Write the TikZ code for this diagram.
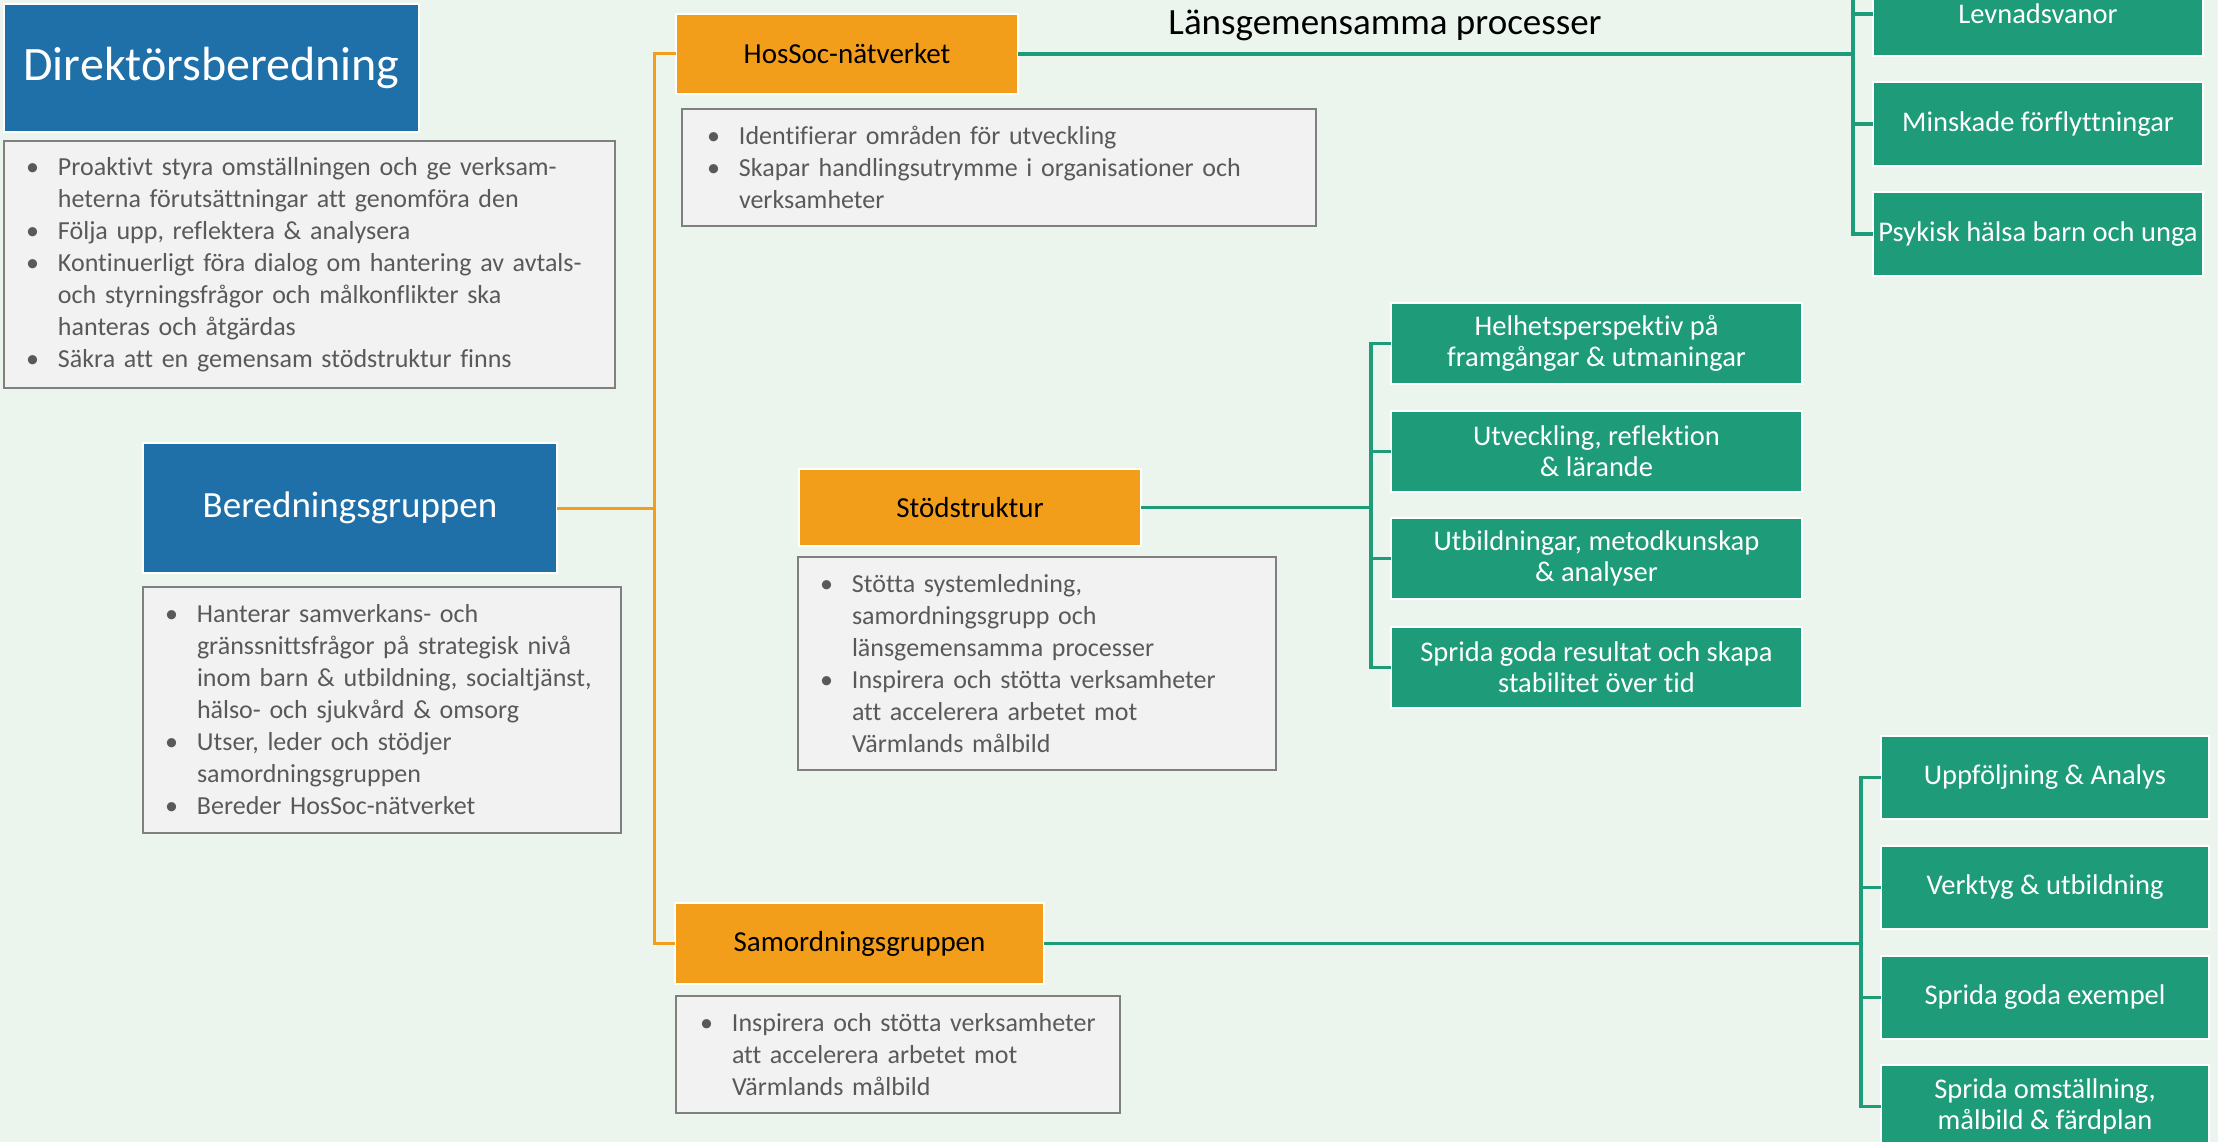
\documentclass[tikz,border=0pt]{standalone}
\usepackage{fontspec}
\setmainfont{Carlito}[Ligatures={NoCommon,NoRequired,NoContextual}]
\definecolor{bg}{RGB}{235,245,238}
\definecolor{blueb}{RGB}{31,111,168}
\definecolor{orangeb}{RGB}{242,158,27}
\definecolor{tealb}{RGB}{30,155,120}
\definecolor{grayfill}{RGB}{242,242,242}
\definecolor{grayline}{RGB}{128,128,128}
\definecolor{graytext}{RGB}{89,89,89}
\newcommand{\li}[1]{\mbox{\makebox[32pt][l]{•}#1}}
\newcommand{\lc}[1]{\mbox{\hspace*{32pt}#1}}
\tikzset{
  box/.style={rectangle, anchor=north west, inner sep=0pt, outer sep=0pt, draw=white, line width=2.5pt, align=center},
  bluebox/.style={box, fill=blueb, text=white},
  orangebox/.style={box, fill=orangeb, text=black, font=\fontsize{29}{34}\selectfont},
  tealbox/.style={box, fill=tealb, text=white, font=\fontsize{28.5}{31}\selectfont},
  infobox/.style={rectangle, anchor=north west, fill=grayfill, draw=grayline, line width=2pt,
    inner xsep=22pt, inner ysep=0pt, outer sep=0pt, align=left, text=graytext, font=\fontsize{26}{32}\selectfont},
  oline/.style={draw=orangeb, line width=3pt},
  tline/.style={draw=tealb, line width=3.5pt},
}
\begin{document}
\begin{tikzpicture}[x=1pt,y=-1pt]
\useasboundingbox (0,0) rectangle (2218,1142);
\fill[bg] (0,0) rectangle (2218,1142);
\clip (0,0) rectangle (2218,1142);

% left column
\node[bluebox, minimum width=415pt, minimum height=128pt, font=\fontsize{48}{54}\selectfont] (dir) at (4,4) {Direktörsberedning};
\node[infobox, text width=567pt, minimum height=247pt] (dirinfo) at (4,141) {%
\li{Proaktivt styra omställningen och ge verksam-}\\
\lc{heterna förutsättningar att genomföra den}\\
\li{Följa upp, reflektera \& analysera}\\
\li{Kontinuerligt föra dialog om hantering av avtals-}\\
\lc{och styrningsfrågor och målkonflikter ska}\\
\lc{hanteras och åtgärdas}\\
\li{Säkra att en gemensam stödstruktur finns}};

\node[bluebox, minimum width=414pt, minimum height=130pt, font=\fontsize{37}{42}\selectfont] (ber) at (143,443) {Beredningsgruppen};
\node[infobox, text width=434pt, minimum height=246pt] (berinfo) at (143,587) {%
\li{Hanterar samverkans- och}\\
\lc{gränssnittsfrågor på strategisk nivå}\\
\lc{inom barn \& utbildning, socialtjänst,}\\
\lc{hälso- och sjukvård \& omsorg}\\
\li{Utser, leder och stödjer}\\
\lc{samordningsgruppen}\\
\li{Bereder HosSoc-nätverket}};

% middle column
\node[orangebox, minimum width=342pt, minimum height=80pt] (hos) at (676,14) {HosSoc-nätverket};
\node[infobox, inner xsep=25pt, text width=584pt, minimum height=117pt] (hosinfo) at (682,109) {%
\li{Identifierar områden för utveckling}\\
\li{Skapar handlingsutrymme i organisationer och}\\
\lc{verksamheter}};

\node[orangebox, minimum width=342pt, minimum height=77pt] (stod) at (799,469) {Stödstruktur};
\node[infobox, text width=434pt, minimum height=213pt] (stodinfo) at (798,557) {%
\li{Stötta systemledning,}\\
\lc{samordningsgrupp och}\\
\lc{länsgemensamma processer}\\
\li{Inspirera och stötta verksamheter}\\
\lc{att accelerera arbetet mot}\\
\lc{Värmlands målbild}};

\node[orangebox, minimum width=369pt, minimum height=81pt] (sam) at (675,903) {Samordningsgruppen};
\node[infobox, inner xsep=24pt, text width=396pt, minimum height=117pt] (saminfo) at (676,996) {%
\li{Inspirera och stötta verksamheter}\\
\lc{att accelerera arbetet mot}\\
\lc{Värmlands målbild}};

\node[anchor=base, font=\fontsize{37}{42}\selectfont] (lans) at (1385,35) {Länsgemensamma processer};

% right boxes group A
\node[tealbox, minimum width=330pt, minimum height=84pt] (lev) at (1873,-28) {Levnadsvanor};
\node[tealbox, minimum width=330pt, minimum height=84pt] (min) at (1873,82) {Minskade förflyttningar};
\node[tealbox, minimum width=330pt, minimum height=84pt] (psy) at (1873,192) {Psykisk hälsa barn och unga};

% group B
\node[tealbox, minimum width=411pt, minimum height=81pt] (hel) at (1391,303) {Helhetsperspektiv på\\framgångar \& utmaningar};
\node[tealbox, minimum width=411pt, minimum height=81pt] (utv) at (1391,411) {Utveckling, reflektion\\\& lärande};
\node[tealbox, minimum width=411pt, minimum height=81pt] (utb) at (1391,518) {Utbildningar, metodkunskap\\\& analyser};
\node[tealbox, minimum width=411pt, minimum height=81pt] (spr) at (1391,627) {Sprida goda resultat och skapa\\stabilitet över tid};

% group C
\node[tealbox, minimum width=328pt, minimum height=83pt] (upp) at (1881,736) {Uppföljning \& Analys};
\node[tealbox, minimum width=328pt, minimum height=83pt] (ver) at (1881,846) {Verktyg \& utbildning};
\node[tealbox, minimum width=328pt, minimum height=83pt] (ex) at (1881,956) {Sprida goda exempel};
\node[tealbox, minimum width=328pt, minimum height=83pt] (oms) at (1881,1065) {Sprida omställning,\\målbild \& färdplan};

% orange connectors
\coordinate (oj) at (654,507);
\draw[oline] (ber.east) -- (ber.east -| oj);
\draw[oline] (hos.west) -- (hos.west -| oj) -- (sam.west -| oj) -- (sam.west);

% teal connectors A
\coordinate (tA) at (1853,54);
\coordinate (tAtop) at (1853,-10);
\draw[tline] (hos.east) -- (hos.east -| tA);
\draw[tline] (tAtop) -- (psy.west -| tA) -- (psy.west);
\draw[tline] (lev.west) -- (lev.west -| tA);
\draw[tline] (min.west) -- (min.west -| tA);

% teal connectors B
\coordinate (tB) at (1371,507);
\draw[tline] (stod.east) -- (stod.east -| tB);
\draw[tline] (hel.west) -- (hel.west -| tB) -- (spr.west -| tB) -- (spr.west);
\draw[tline] (utv.west) -- (utv.west -| tB);
\draw[tline] (utb.west) -- (utb.west -| tB);

% teal connectors C
\coordinate (tC) at (1861,943);
\draw[tline] (sam.east) -- (sam.east -| tC);
\draw[tline] (upp.west) -- (upp.west -| tC) -- (oms.west -| tC) -- (oms.west);
\draw[tline] (ver.west) -- (ver.west -| tC);
\draw[tline] (ex.west) -- (ex.west -| tC);
\end{tikzpicture}
\end{document}
